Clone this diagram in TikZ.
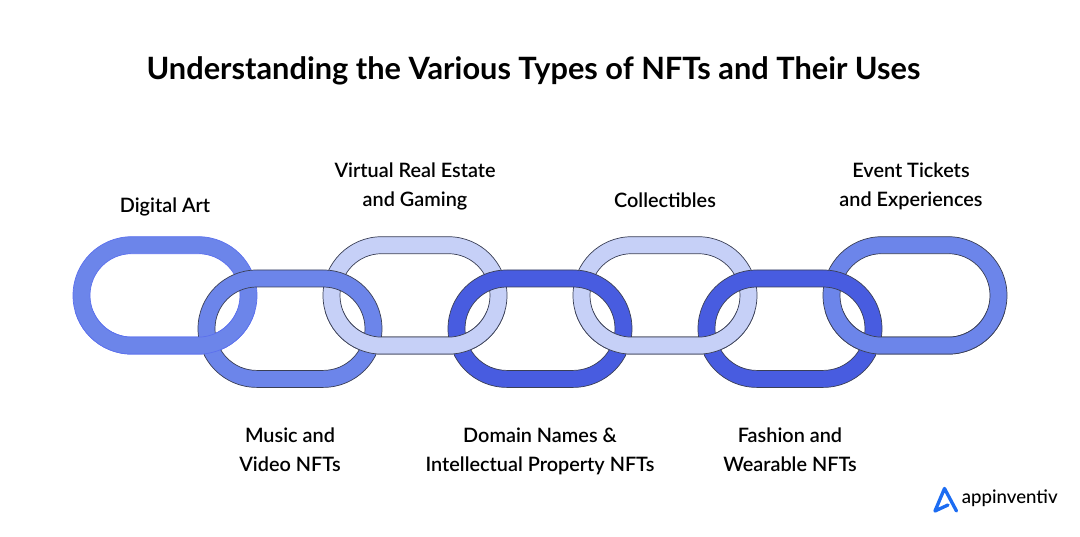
\documentclass[tikz,border=0pt]{standalone}
\usepackage{fontspec}
\setmainfont{Lato Semibold}[BoldFont=Lato Bold]
\newfontfamily\brandfont{Lato Medium}
\usepackage{tikz}
\usetikzlibrary{calc}

\definecolor{ringmid}{HTML}{6C85EA}
\definecolor{ringpale}{HTML}{C6D0F7}
\definecolor{ringdeep}{HTML}{485CE0}
\definecolor{ringline}{HTML}{3A3F55}
\definecolor{logoblue}{HTML}{1C6CF2}

\tikzset{
	ringfirst/.style={fill=ringmid,draw=ringmid!85!blue,line width=.4pt},
	ringa/.style={fill=ringmid,draw=ringline,line width=.4pt},
	ringb/.style={fill=ringpale,draw=ringline,line width=.4pt},
	ringc/.style={fill=ringdeep,draw=ringline,line width=.4pt},
	lbl/.style={align=center,font=\fontsize{11.3}{16.4}\selectfont,inner sep=0pt},
}

% one chain link: left, top, style
\newcommand{\chainlink}[3]{
	\path[#3,even odd rule,rounded corners=1.174cm] (#1,#2) rectangle ++(184,117.4)
		[rounded corners=.834cm] ($(#1,#2)+(17,17)$) rectangle ++(150,83.4);
}

\begin{document}
\begin{tikzpicture}[x=.02cm,y=-.02cm]
			\useasboundingbox (0,0) rectangle (1080,537);
			
			\node[font=\fontsize{17.5}{20}\selectfont\bfseries,inner sep=0pt](title)at(533.5,70.5) {Understanding the Various Types of NFTs and Their Uses};
			
			\chainlink{73}{236.7}{ringfirst}
			\chainlink{323}{236.7}{ringb}
			\chainlink{573}{236.7}{ringb}
			\chainlink{823}{236.7}{ringa}
			
			\chainlink{198}{270}{ringa}
			\chainlink{448}{270}{ringc}
			\chainlink{698}{270}{ringc}
			
			% bottoms of the upper links pass over again
			\begin{scope}
				\clip (0,312) rectangle (1080,370);
				\chainlink{73}{236.7}{ringfirst}
				\chainlink{323}{236.7}{ringb}
				\chainlink{573}{236.7}{ringb}
				\chainlink{823}{236.7}{ringa}
			\end{scope}
			
			\node[lbl](art)at(165,207) {Digital Art};
			\node[lbl](estate)at(415,186.5) {Virtual Real Estate\\and Gaming};
			\node[lbl](collect)at(665,200) {Collectibles};
			\node[lbl](tickets)at(911,186.5) {Event Tickets\\and Experiences};
			\node[lbl](music)at(290,450) {Music and\\Video NFTs};
			\node[lbl](domain)at(540,451.5) {Domain Names \&\\Intellectual Property NFTs};
			\node[lbl](fashion)at(790,450) {Fashion and\\Wearable NFTs};
			
			\draw[logoblue,line width=1.9pt,line join=round,line cap=round] (956.5,511) -- (944.5,488.5) -- (935,511) -- (948,505);
			\node[font=\fontsize{10.6}{14}\brandfont,inner sep=0pt,anchor=base west](brand)at(961.5,503) {appinventiv};
		\end{tikzpicture}
\end{document}
